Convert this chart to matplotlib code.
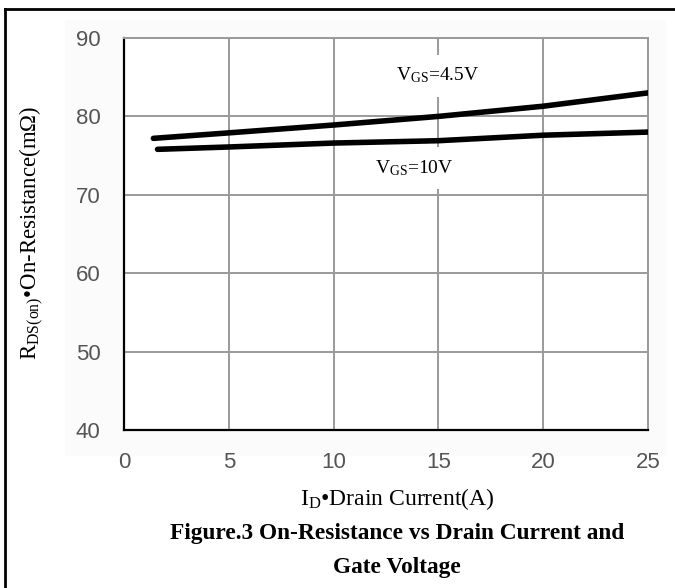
import matplotlib.pyplot as plt
from matplotlib.patches import Rectangle
from matplotlib.lines import Line2D

plt.rcParams['mathtext.fontset'] = 'custom'
plt.rcParams['mathtext.rm'] = 'Liberation Serif'

# values
id_45 = [1.4, 5, 10, 15, 20, 25]
r_45 = [77.2, 77.9, 78.9, 80.0, 81.3, 83.0]
id_10 = [1.6, 5, 10, 15, 20, 25]
r_10 = [75.8, 76.1, 76.6, 76.9, 77.6, 78.0]
xticks = [0, 5, 10, 15, 20, 25]
yticks = [40, 50, 60, 70, 80, 90]

fig = plt.figure(figsize=(6.75, 5.88), dpi=100)

# faint backdrop behind the chart image and the page frame
fig.patches.append(Rectangle((65 / 675, 1 - 455 / 588), 600 / 675, 435 / 588,
                             transform=fig.transFigure, color='#fbfbfb', zorder=-10))
fig.lines.append(Line2D([5 / 675, 5 / 675], [0, 1 - 9 / 588], transform=fig.transFigure,
                        color='black', lw=2))
fig.lines.append(Line2D([5 / 675, 1], [1 - 9 / 588, 1 - 9 / 588], transform=fig.transFigure,
                        color='black', lw=2))

ax = fig.add_axes([124 / 675, 1 - 430 / 588, 524 / 675, 392 / 588])
ax.set_facecolor('white')
ax.plot(id_45, r_45, color='black', lw=4, solid_capstyle='round', zorder=3)
ax.plot(id_10, r_10, color='black', lw=4, solid_capstyle='round', zorder=3)

ax.set_xlim(0, 25)
ax.set_ylim(40, 90)
ax.set_xticks(xticks)
ax.set_yticks(yticks)
ax.grid(True, color='#9a9a9a', lw=1.4)
ax.tick_params(length=0, labelsize=16, labelcolor='#555555')
ax.tick_params(axis='x', pad=16)
ax.tick_params(axis='y', pad=17)
for lbl in ax.get_xticklabels() + ax.get_yticklabels():
    lbl.set_family('Liberation Sans')

for side in ['top', 'right']:
    ax.spines[side].set_color('#9a9a9a')
    ax.spines[side].set_linewidth(1.4)
for side in ['left', 'bottom']:
    ax.spines[side].set_color('black')
    ax.spines[side].set_linewidth(1.6)

ax.text(14.95, 85.2, r'$\mathrm{V_{GS}}$=4.5V', family='Liberation Serif', fontsize=14,
        ha='center', va='center', zorder=4,
        bbox=dict(facecolor='white', edgecolor='none', pad=8))
ax.text(13.85, 73.4, r'$\mathrm{V_{GS}}$=10V', family='Liberation Serif', fontsize=14,
        ha='center', va='center', zorder=4,
        bbox=dict(facecolor='white', edgecolor='none', pad=8))

fig.text(32 / 675, 1 - 233 / 588, r'$\mathrm{R_{DS(on)}}$•On-Resistance(mΩ)',
         family='Liberation Serif', fontsize=16.4, rotation=90, ha='center', va='center')
fig.text(397 / 675, 1 - 499 / 588, r'$\mathrm{I_D}$•Drain Current(A)',
         family='Liberation Serif', fontsize=17, ha='center', va='center')
fig.text(397 / 675, 1 - 533 / 588, 'Figure.3 On-Resistance vs Drain Current and',
         family='Liberation Serif', fontsize=16.8, weight='bold', ha='center', va='center')
fig.text(397 / 675, 1 - 567 / 588, 'Gate Voltage',
         family='Liberation Serif', fontsize=16.8, weight='bold', ha='center', va='center')

fig.savefig('out.png', dpi=100)
